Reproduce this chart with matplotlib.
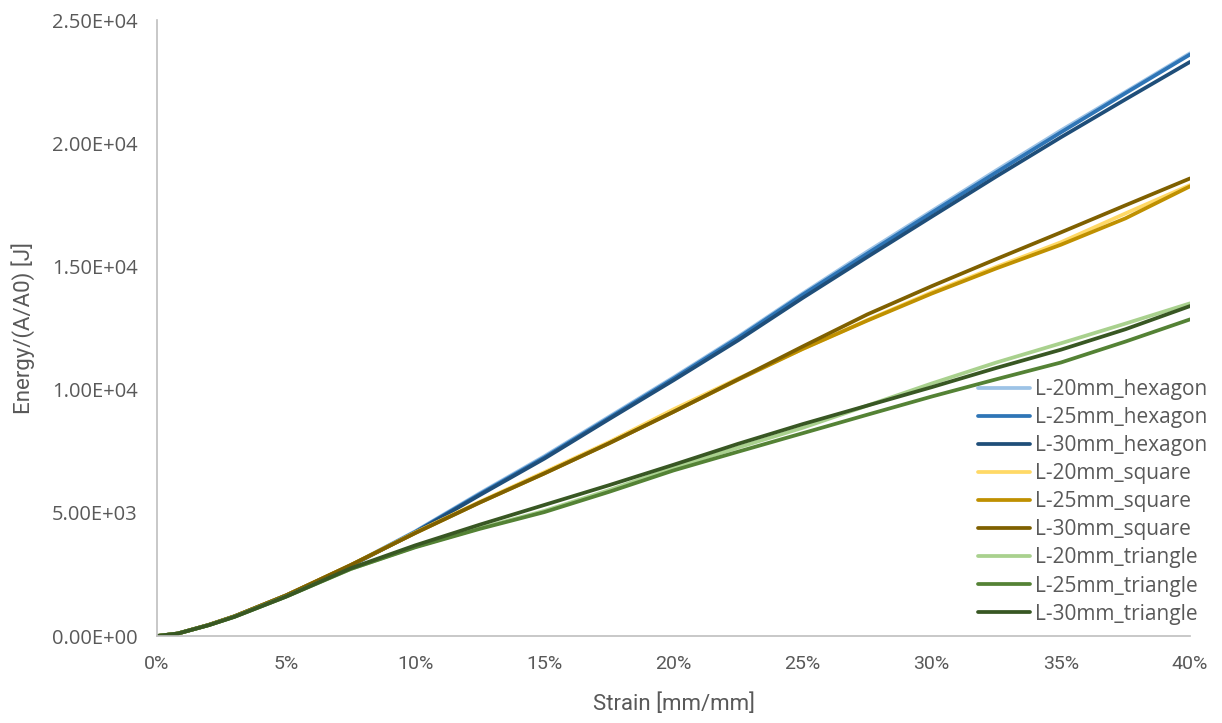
import numpy as np
import matplotlib
matplotlib.use("Agg")
import matplotlib.pyplot as plt
from matplotlib.ticker import FuncFormatter

# strain values [mm/mm]
strain = [0, 0.008, 0.02, 0.03, 0.05, 0.075, 0.10, 0.125, 0.15, 0.175, 0.20,
          0.225, 0.25, 0.275, 0.30, 0.325, 0.35, 0.375, 0.40]

# energy / (A/A0) [J]
hex_20 = [0, 100, 450, 800, 1650, 2870, 4250, 5800, 7300, 8900, 10500,
          12150, 13900, 15600, 17250, 18900, 20520, 22080, 23650]
hex_25 = [0, 100, 450, 800, 1650, 2860, 4230, 5760, 7250, 8850, 10450,
          12100, 13850, 15520, 17180, 18820, 20440, 22030, 23600]
hex_30 = [0, 100, 450, 800, 1650, 2850, 4200, 5720, 7200, 8800, 10380,
          12000, 13720, 15380, 17020, 18650, 20240, 21780, 23300]

sq_20 = [0, 100, 450, 800, 1650, 2880, 4200, 5450, 6650, 7870, 9200,
         10450, 11650, 12820, 13950, 14980, 15980, 17150, 18300]
sq_25 = [0, 100, 450, 800, 1650, 2880, 4180, 5420, 6600, 7820, 9100,
         10400, 11650, 12800, 13900, 14920, 15880, 16950, 18250]
sq_30 = [0, 100, 450, 800, 1650, 2880, 4180, 5420, 6600, 7820, 9100,
         10420, 11750, 13050, 14200, 15300, 16380, 17480, 18570]

tri_20 = [0, 100, 440, 780, 1600, 2720, 3620, 4380, 5080, 5920, 6830,
          7650, 8450, 9350, 10250, 11100, 11880, 12680, 13500]
tri_25 = [0, 100, 440, 780, 1600, 2720, 3600, 4350, 5030, 5850, 6720,
          7480, 8230, 8980, 9720, 10420, 11100, 11950, 12850]
tri_30 = [0, 100, 440, 780, 1600, 2750, 3680, 4520, 5320, 6120, 6950,
          7800, 8600, 9350, 10100, 10880, 11620, 12450, 13390]

labels = ["L-20mm_hexagon", "L-25mm_hexagon", "L-30mm_hexagon",
          "L-20mm_square", "L-25mm_square", "L-30mm_square",
          "L-20mm_triangle", "L-25mm_triangle", "L-30mm_triangle"]
series = [hex_20, hex_25, hex_30, sq_20, sq_25, sq_30, tri_20, tri_25, tri_30]
colors = ["#9DC3E6", "#2E75B6", "#1F4E79",
          "#FFD966", "#BF9000", "#7F6000",
          "#A9D18E", "#548235", "#385723"]

narrow = ["Liberation Sans Narrow", "Roboto", "DejaVu Sans"]
grey = "#595959"

fig = plt.figure(figsize=(12.22, 7.23), dpi=100)
ax = fig.add_axes([0.1285, 0.1203, 0.8453, 0.852])

for y, lab, c in zip(series, labels, colors):
    ax.plot(strain, y, color=c, lw=2.7, label=lab, solid_capstyle="round")

ax.set_xlim(0, 0.40)
ax.set_ylim(0, 25000)
ax.set_xticks(np.arange(0, 0.401, 0.05))
ax.set_yticks(np.arange(0, 25001, 5000))
ax.xaxis.set_major_formatter(FuncFormatter(lambda v, p: f"{v*100:.0f}%"))
ax.yaxis.set_major_formatter(FuncFormatter(
    lambda v, p: "0.00E+00" if v == 0 else "%.2fE+%02d" % (v / 10**int(np.floor(np.log10(v))), int(np.floor(np.log10(v))))))

for s in ["top", "right"]:
    ax.spines[s].set_visible(False)
for s in ["left", "bottom"]:
    ax.spines[s].set_color("#BFBFBF")
    ax.spines[s].set_linewidth(1.2)
ax.tick_params(length=0, colors=grey)
ax.tick_params(axis="x", pad=14)
ax.tick_params(axis="y", pad=14)
for t in ax.get_xticklabels():
    t.set_family(narrow)
    t.set_fontsize(14)
for t in ax.get_yticklabels():
    t.set_family("Open Sans")
    t.set_fontsize(14.5)

ax.set_xlabel("Strain [mm/mm]", family=narrow, fontsize=16, color=grey, labelpad=14)
ax.set_ylabel("Energy/(A/A0) [J]", family=narrow, fontsize=16, color=grey, labelpad=12)

leg = ax.legend(loc="lower right", bbox_to_anchor=(1.035, -0.012), frameon=False,
                prop={"family": "Open Sans", "size": 15}, handlelength=2.5,
                handletextpad=0.25, labelspacing=0.34, labelcolor=grey)

fig.savefig("out.png", dpi=100)
